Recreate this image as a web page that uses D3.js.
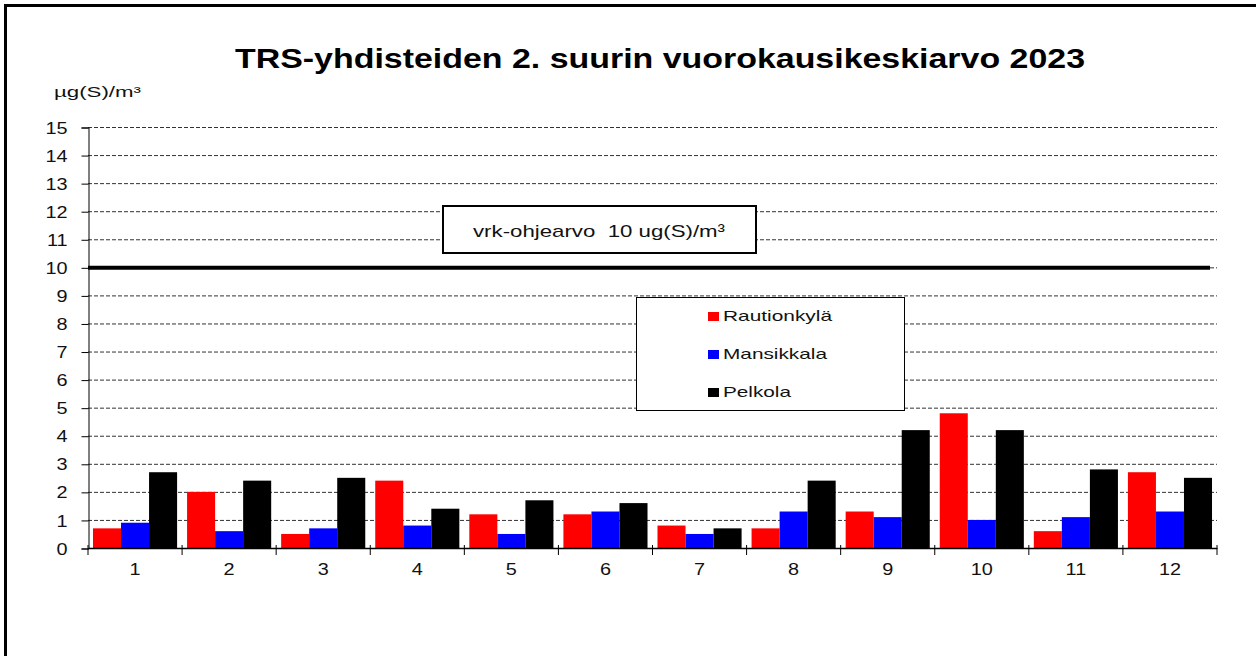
<!DOCTYPE html>
<html><head><meta charset="utf-8">
<script src="https://cdn.jsdelivr.net/npm/d3@7"></script>
<style>body{margin:0;background:#fff}svg{display:block;font-family:"Liberation Sans",Arial,sans-serif}text{white-space:pre}</style>
</head><body><svg id="c" width="1256" height="656"></svg>
<script>
const months = ["1","2","3","4","5","6","7","8","9","10","11","12"];
const seriesNames = ["Rautionkylä","Mansikkala","Pelkola"];
const seriesColors = ["#ff0000","#0000ff","#000000"];
const rautionkyla = [0.7,2.0,0.5,2.4,1.2,1.2,0.8,0.7,1.3,4.8,0.6,2.7];
const mansikkala = [0.9,0.6,0.7,0.8,0.5,1.3,0.5,1.3,1.1,1.0,1.1,1.3];
const pelkola = [2.7,2.4,2.5,1.4,1.7,1.6,0.7,2.4,4.2,4.2,2.8,2.5];
const yTicks = [0,1,2,3,4,5,6,7,8,9,10,11,12,13,14,15];
const limitValue = 10;
const titleText = "TRS-yhdisteiden 2. suurin vuorokausikeskiarvo 2023";
const unitText = "µg(S)/m³";
const limitLabel = "vrk-ohjearvo  10 ug(S)/m³";

const svg = d3.select("#c");
const L=88, R=1217, T=127, B=548;
const K = 1.24; // horizontal text stretch of the original
function stretch(sel,k){
  sel.each(function(){
    const w=this.getComputedTextLength();
    d3.select(this).attr("textLength",w*k).attr("lengthAdjust","spacingAndGlyphs");
  });
}
const x = d3.scaleBand().domain(months).range([L,R]).paddingInner(0.106).paddingOuter(0.053);
const xb = d3.scaleBand().domain(months).range([L,R]);
const xs = d3.scaleBand().domain(seriesNames).range([0,x.bandwidth()]);
const y = d3.scaleLinear().domain([0,15]).range([B,T]);

// outer frame
svg.append("rect").attr("x",5.5).attr("y",5.5).attr("width",1300).attr("height",700)
  .attr("fill","none").attr("stroke","#000").attr("stroke-width",3);

// title
svg.append("text").attr("x",235).attr("y",68)
  .attr("font-size",28).attr("font-weight","bold").attr("textLength",850)
  .attr("lengthAdjust","spacingAndGlyphs").text(titleText);
svg.append("text").attr("x",54).attr("y",97).attr("font-size",15)
  .attr("textLength",87).attr("lengthAdjust","spacingAndGlyphs").attr("fill","#111").text(unitText);

// gridlines
svg.append("g").selectAll("line").data(yTicks.filter(d=>d>0)).join("line")
  .attr("x1",L).attr("x2",R).attr("y1",d=>y(d)+0.5).attr("y2",d=>y(d)+0.5)
  .attr("stroke","#333").attr("stroke-width",1).attr("stroke-dasharray","4,2");

// y axis
const ya = svg.append("g").attr("transform",`translate(${L+0.5},0.5)`)
  .call(d3.axisLeft(y).tickValues(yTicks).tickSize(7).tickPadding(14).tickFormat(d3.format("d")));
ya.select(".domain").attr("stroke","#000");
ya.selectAll("text").attr("font-size",16).attr("font-family","Liberation Sans, Arial, sans-serif").attr("fill","#111").attr("dy","0.35em");
stretch(ya.selectAll("text"),K);

// bars
const data = months.map((m,i)=>({m, vals:[rautionkyla[i],mansikkala[i],pelkola[i]]}));
const g = svg.append("g");
data.forEach(d=>{
  d.vals.forEach((v,j)=>{
    g.append("rect").attr("x",x(d.m)+xs(seriesNames[j])).attr("y",y(v))
      .attr("width",xs.bandwidth()).attr("height",y(0)-y(v))
      .attr("fill",seriesColors[j]);
  });
});

// x axis
const xa = svg.append("g").attr("transform",`translate(0,${B})`)
  .call(d3.axisBottom(xb).tickSize(0).tickPadding(16));
xa.select(".domain").attr("stroke","#000").attr("stroke-width",1.5);
xa.selectAll("text").attr("font-size",16).attr("font-family","Liberation Sans, Arial, sans-serif").attr("fill","#111");
stretch(xa.selectAll("text"),K);
const bounds = months.map(m=>xb(m)).concat([R]);
svg.append("g").selectAll("line").data(bounds).join("line")
  .attr("x1",d=>d).attr("x2",d=>d).attr("y1",B-3).attr("y2",B+7).attr("stroke","#000");

// limit line
svg.append("line").attr("x1",L).attr("x2",1210).attr("y1",y(limitValue)+0.5).attr("y2",y(limitValue)+0.5)
  .attr("stroke","#000").attr("stroke-width",4);

// limit label box
svg.append("rect").attr("x",443).attr("y",206).attr("width",313).attr("height",47)
  .attr("fill","#fff").attr("stroke","#000").attr("stroke-width",2);
svg.append("text").attr("x",473).attr("y",237).attr("font-size",17).attr("fill","#111")
  .attr("textLength",252).attr("lengthAdjust","spacingAndGlyphs").text(limitLabel);

// legend
svg.append("rect").attr("x",636.5).attr("y",297.5).attr("width",268).attr("height",113)
  .attr("fill","#fff").attr("stroke","#000").attr("stroke-width",1);
const legendWidths = [109,104,68];
const lg = svg.append("g").selectAll("g").data(seriesNames).join("g")
  .attr("transform",(d,i)=>`translate(708,${321+i*38})`);
lg.append("rect").attr("x",0).attr("y",-9).attr("width",11).attr("height",9).attr("fill",(d,i)=>seriesColors[i]);
lg.append("text").attr("x",15).attr("y",0).attr("font-size",15).attr("fill","#111")
  .attr("textLength",(d,i)=>legendWidths[i]).attr("lengthAdjust","spacingAndGlyphs").text(d=>d);
</script></body></html>
